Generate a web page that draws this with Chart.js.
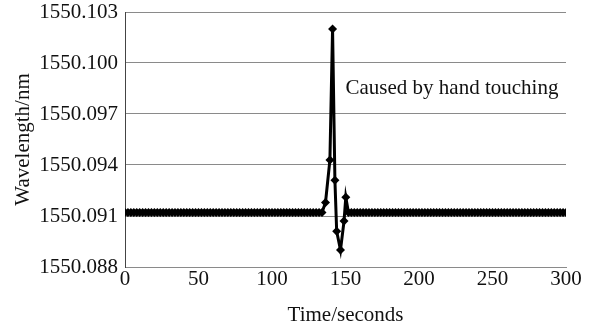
<!DOCTYPE html>
<html>
<head>
<meta charset="utf-8">
<script src="https://cdn.jsdelivr.net/npm/chart.js@4/dist/chart.umd.min.js"></script>
<style>
  html, body { margin: 0; padding: 0; background: #ffffff; }
  #wrap { width: 596px; height: 332px; position: relative; }
</style>
</head>
<body>
<div id="wrap"><canvas id="c" width="596" height="332"></canvas></div>
<script>
// ---- Data ----
const timeSeconds = [
  0,2,4,6,8,10,12,14,16,18,20,22,24,26,28,30,32,34,36,38,
  40,42,44,46,48,50,52,54,56,58,60,62,64,66,68,70,72,74,76,78,
  80,82,84,86,88,90,92,94,96,98,100,102,104,106,108,110,112,114,116,118,
  120,122,124,126,128,130,132,134,
  136.4,139.4,141.2,142.8,144,146.6,149,150.2,
  152,154,156,158,160,162,164,166,168,170,172,174,176,178,180,182,184,186,188,190,
  192,194,196,198,200,202,204,206,208,210,212,214,216,218,220,222,224,226,228,230,
  232,234,236,238,240,242,244,246,248,250,252,254,256,258,260,262,264,266,268,270,
  272,274,276,278,280,282,284,286,288,290,292,294,296,298,300
];
const wavelengthNm = [
  1550.0912,1550.0912,1550.0912,1550.0912,1550.0912,1550.0912,1550.0912,1550.0912,1550.0912,1550.0912,
  1550.0912,1550.0912,1550.0912,1550.0912,1550.0912,1550.0912,1550.0912,1550.0912,1550.0912,1550.0912,
  1550.0912,1550.0912,1550.0912,1550.0912,1550.0912,1550.0912,1550.0912,1550.0912,1550.0912,1550.0912,
  1550.0912,1550.0912,1550.0912,1550.0912,1550.0912,1550.0912,1550.0912,1550.0912,1550.0912,1550.0912,
  1550.0912,1550.0912,1550.0912,1550.0912,1550.0912,1550.0912,1550.0912,1550.0912,1550.0912,1550.0912,
  1550.0912,1550.0912,1550.0912,1550.0912,1550.0912,1550.0912,1550.0912,1550.0912,1550.0912,1550.0912,
  1550.0912,1550.0912,1550.0912,1550.0912,1550.0912,1550.0912,1550.0912,1550.0912,
  1550.0918,1550.0943,1550.1020,1550.0931,1550.0901,1550.0890,1550.0907,1550.0921,
  1550.0912,1550.0912,1550.0912,1550.0912,1550.0912,1550.0912,1550.0912,1550.0912,1550.0912,1550.0912,
  1550.0912,1550.0912,1550.0912,1550.0912,1550.0912,1550.0912,1550.0912,1550.0912,1550.0912,1550.0912,
  1550.0912,1550.0912,1550.0912,1550.0912,1550.0912,1550.0912,1550.0912,1550.0912,1550.0912,1550.0912,
  1550.0912,1550.0912,1550.0912,1550.0912,1550.0912,1550.0912,1550.0912,1550.0912,1550.0912,1550.0912,
  1550.0912,1550.0912,1550.0912,1550.0912,1550.0912,1550.0912,1550.0912,1550.0912,1550.0912,1550.0912,
  1550.0912,1550.0912,1550.0912,1550.0912,1550.0912,1550.0912,1550.0912,1550.0912,1550.0912,1550.0912,
  1550.0912,1550.0912,1550.0912,1550.0912,1550.0912,1550.0912,1550.0912,1550.0912,1550.0912,1550.0912,
  1550.0912,1550.0912,1550.0912,1550.0912,1550.0912
];
const yTickMin = 1550.088;
const yTickMax = 1550.103;
const yTickStep = 0.003;
const xTickMin = 0;
const xTickMax = 300;
const xTickStep = 50;
const annotationText = 'Caused by hand touching';
const annotationAt = { x: 150, y: 1550.0985 };
const xTitle = 'Time/seconds';
const yTitle = 'Wavelength/nm';

// ---- Chart ----
const FONT = '"Liberation Serif", "Times New Roman", serif';
const points = timeSeconds.map((t, i) => ({ x: t, y: wavelengthNm[i] }));

const annotationPlugin = {
  id: 'textAnnotation',
  afterDatasetsDraw(chart) {
    const { ctx, scales } = chart;
    const px = scales.x.getPixelForValue(annotationAt.x);
    const py = scales.y.getPixelForValue(annotationAt.y);
    ctx.save();
    ctx.font = '21px ' + FONT;
    ctx.fillStyle = '#111111';
    ctx.textAlign = 'left';
    ctx.textBaseline = 'middle';
    ctx.fillText(annotationText, px, py);
    ctx.restore();
  }
};

const bgPlugin = {
  id: 'bg',
  beforeDraw(chart) {
    const ctx = chart.ctx;
    ctx.save();
    ctx.fillStyle = '#ffffff';
    ctx.fillRect(0, 0, chart.width, chart.height);
    ctx.restore();
  }
};

new Chart(document.getElementById('c'), {
  type: 'line',
  data: {
    datasets: [{
      data: points,
      borderColor: '#000000',
      backgroundColor: '#000000',
      borderWidth: 3,
      pointStyle: 'rectRot',
      pointRadius: 4.5,
      pointBorderWidth: 0,
      pointBackgroundColor: '#000000',
      tension: 0
    }]
  },
  options: {
    responsive: false,
    animation: false,
    devicePixelRatio: 1,
    layout: { padding: { left: 0, right: 30, top: 12, bottom: 0 } },
    plugins: { legend: { display: false }, tooltip: { enabled: false } },
    scales: {
      x: {
        type: 'linear',
        min: xTickMin,
        max: xTickMax,
        ticks: {
          stepSize: xTickStep,
          color: '#111111',
          font: { family: FONT, size: 21 },
          padding: 0,
          maxRotation: 0
        },
        grid: { display: false, drawTicks: false },
        border: { display: true, color: '#8a8a8a', width: 1 },
        title: {
          display: true,
          text: xTitle,
          color: '#111111',
          font: { family: FONT, size: 21 },
          padding: { top: 0, bottom: 4 }
        },
        afterFit(scale) { scale.height = 65; }
      },
      y: {
        type: 'linear',
        min: yTickMin,
        max: yTickMax,
        ticks: {
          stepSize: yTickStep,
          color: '#111111',
          font: { family: FONT, size: 21 },
          padding: 7,
          callback: (v) => Number(v).toFixed(3)
        },
        grid: { color: '#8a8a8a', lineWidth: 1, drawTicks: false },
        border: { display: true, color: '#444444', width: 1 },
        title: {
          display: true,
          text: yTitle,
          color: '#111111',
          font: { family: FONT, size: 21 },
          padding: { top: 11, bottom: 0 }
        },
        afterFit(scale) {
          scale.width = 125;
          scale.paddingTop = 0;
          scale.paddingBottom = 0;
        }
      }
    }
  },
  plugins: [bgPlugin, annotationPlugin]
});
</script>
</body>
</html>
